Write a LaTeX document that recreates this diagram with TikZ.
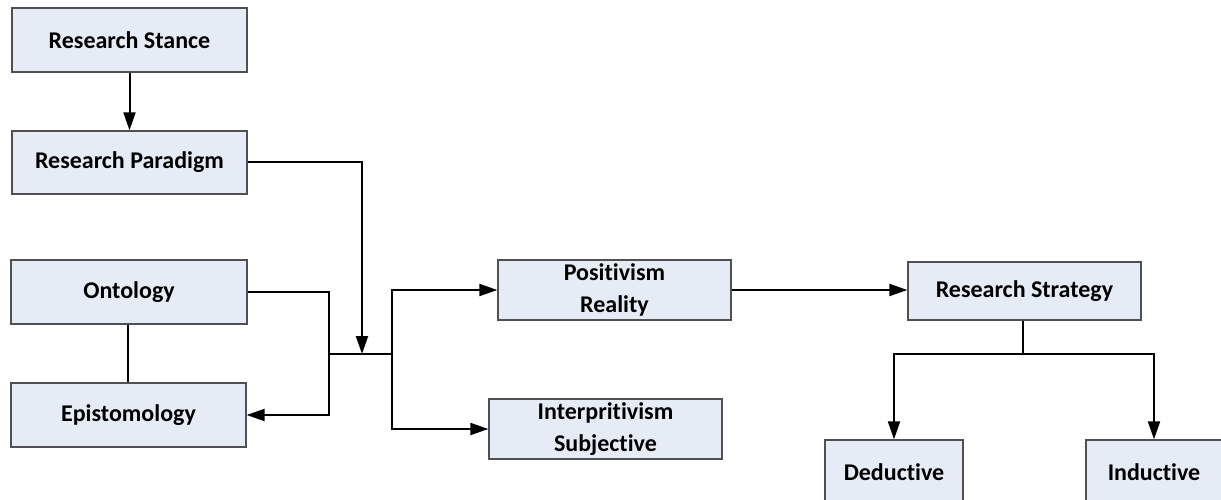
\documentclass[tikz,border=0pt]{standalone}
\usepackage{fontspec}
\setmainfont[Ligatures=NoCommon]{Carlito}
\usetikzlibrary{arrows.meta}
\definecolor{boxfill}{RGB}{230,236,246}
\definecolor{boxline}{RGB}{80,80,80}
\begin{document}
\begin{tikzpicture}[x=1pt,y=-1pt,
  box/.style={draw=boxline,line width=1.3pt,fill=boxfill,inner sep=0pt,
    align=center,font=\fontsize{24}{32}\selectfont\bfseries},
  conn/.style={line width=2pt,black},
  arr/.style={conn,-{Triangle[length=18pt,width=12pt]}}]
\useasboundingbox (0,0) rectangle (1221,500);
\begin{scope}
\clip (0,0) rectangle (1221,500);
\node[box,minimum width=235pt,minimum height=64pt] (stance) at (129.5,40) {Research Stance};
\node[box,minimum width=235pt,minimum height=63pt] (paradigm) at (129.5,162.5) {Research Paradigm};
\node[box,minimum width=236pt,minimum height=64pt] (ontology) at (129,292) {Ontology};
\node[box,minimum width=235pt,minimum height=64pt] (episto) at (128.5,415) {Epistomology};
\node[box,minimum width=233pt,minimum height=60pt] (posit) at (614.5,290) {Positivism\\Reality};
\node[box,minimum width=233pt,minimum height=60pt] (interp) at (605.5,429) {Interpritivism\\Subjective};
\node[box,minimum width=233pt,minimum height=58pt] (strategy) at (1024.5,291) {Research Strategy};
\node[box,minimum width=138pt,minimum height=64pt] (deduct) at (894,472) {Deductive};
\node[box,minimum width=136pt,minimum height=64pt] (induct) at (1154,472) {Inductive};

\coordinate (jl) at (329,354);
\coordinate (jm) at (362,354);
\coordinate (jr) at (392,354);
\coordinate (split) at (1023,354);

\draw[arr] (stance) -- (paradigm);
\draw[arr] (paradigm.east) -| (jm);
\draw[conn,line width=1.5pt] (ontology.south -| 128,0) -- (episto.north -| 128,0);
\draw[arr] (ontology.east) -| (jl) |- (episto.east);
\draw[conn] (jl) -- (jr);
\draw[arr] (jr) |- (posit.west);
\draw[arr] (jr) |- (interp.west);
\draw[arr] (posit.east) -- (posit.east -| strategy.west);
\draw[conn] (strategy.south -| split) -- (split);
\draw[arr] (split) -| (deduct.north);
\draw[arr] (split) -| (induct.north);
\end{scope}
\end{tikzpicture}
\end{document}
